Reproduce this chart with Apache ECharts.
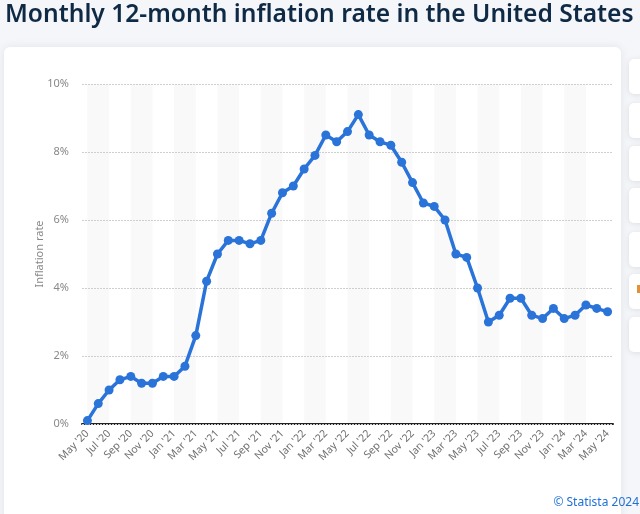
<!DOCTYPE html>
<html>
<head>
<meta charset="utf-8">
<script src="https://cdn.jsdelivr.net/npm/echarts@6/dist/echarts.min.js"></script>
<style>
html,body{margin:0;padding:0;background:#f5f6f9;}
#c{width:640px;height:514px;}
</style>
</head>
<body>
<div id="c"></div>
<script>
const months = ["May '20","Jun '20","Jul '20","Aug '20","Sep '20","Oct '20","Nov '20","Dec '20",
"Jan '21","Feb '21","Mar '21","Apr '21","May '21","Jun '21","Jul '21","Aug '21","Sep '21","Oct '21","Nov '21","Dec '21",
"Jan '22","Feb '22","Mar '22","Apr '22","May '22","Jun '22","Jul '22","Aug '22","Sep '22","Oct '22","Nov '22","Dec '22",
"Jan '23","Feb '23","Mar '23","Apr '23","May '23","Jun '23","Jul '23","Aug '23","Sep '23","Oct '23","Nov '23","Dec '23",
"Jan '24","Feb '24","Mar '24","Apr '24","May '24"];
const inflationRate = [0.1,0.6,1.0,1.3,1.4,1.2,1.2,1.4,
1.4,1.7,2.6,4.2,5.0,5.4,5.4,5.3,5.4,6.2,6.8,7.0,
7.5,7.9,8.5,8.3,8.6,9.1,8.5,8.3,8.2,7.7,7.1,6.5,
6.4,6.0,5.0,4.9,4.0,3.0,3.2,3.7,3.7,3.2,3.1,3.4,
3.1,3.2,3.5,3.4,3.3];
const yTicks = [0,2,4,6,8,10];
const titleText = "Monthly 12-month inflation rate in the United States";
const yName = "Inflation rate";
const credit = "\u00A9 Statista 2024";

const chart = echarts.init(document.getElementById('c'));
const sideButtons = [59,103,146,188,232,274,317].map(function(y){
  return {type:'rect', shape:{x:629,y:y,width:30,height:35,r:5}, style:{fill:'#ffffff', shadowBlur:6, shadowColor:'rgba(0,0,0,0.10)', shadowOffsetY:1}, z:-1};
});
chart.setOption({
  backgroundColor:'#f5f6f9',
  animation:false,
  graphic:[
    {type:'rect', shape:{x:4,y:47,width:617,height:480,r:6}, style:{fill:'#ffffff', shadowBlur:10, shadowColor:'rgba(0,0,0,0.08)'}, z:-2}
  ].concat(sideButtons).concat([
    {type:'rect', shape:{x:637,y:285,width:4,height:8}, style:{fill:'#e0913a'}, z:-1},
    {type:'text', left:5, top:2, style:{text:titleText, font:'600 24.6px "Noto Sans"', fill:'#0f2a45'}},
    {type:'text', right:1, top:497, style:{text:credit, font:'12px "Noto Sans"', fill:'#1f70d6'}}
  ]),
  grid:{left:82, right:27, top:84, bottom:90, containLabel:false},
  xAxis:{
    type:'category', data:months, boundaryGap:true, z:0,
    axisLine:{lineStyle:{color:'#222', width:2}},
    axisTick:{show:false},
    axisLabel:{interval:1, rotate:45, color:'#707070', fontSize:10.5, fontFamily:'"Noto Sans"', margin:8},
    splitArea:{show:true, interval:1, alignWithLabel:true, areaStyle:{color:['#f9f9f9','rgba(255,255,255,0)']}},
    splitLine:{show:false}
  },
  yAxis:{
    type:'value', min:0, max:10, interval:2, z:1,
    name:yName, nameLocation:'middle', nameGap:37, nameMoveOverlap:false,
    nameTextStyle:{color:'#888', fontSize:11, fontFamily:'"Noto Sans"'},
    axisLine:{show:false}, axisTick:{show:false},
    axisLabel:{formatter:'{value}%', color:'#888', fontSize:11, fontFamily:'"Noto Sans"', margin:13},
    splitLine:{lineStyle:{color:'#cfcfcf', type:[2,1], width:1}}
  },
  series:[{
    type:'line', data:inflationRate,
    symbol:'circle', symbolSize:9, showAllSymbol:true,
    lineStyle:{color:'#2a73d8', width:3.5},
    itemStyle:{color:'#2a73d8'},
    z:5
  }]
});
</script>
</body>
</html>
